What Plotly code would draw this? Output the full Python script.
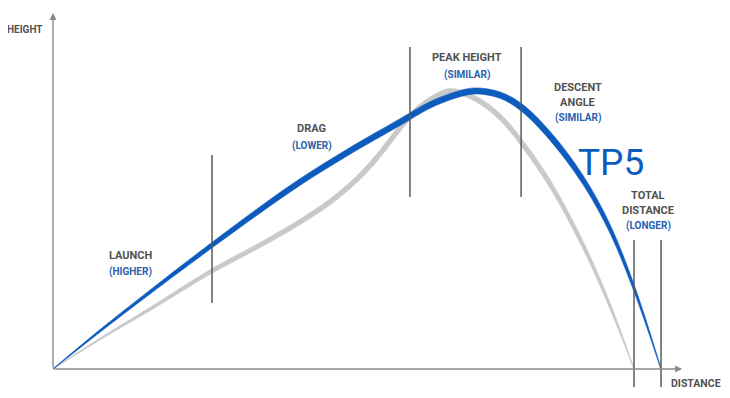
import math
import plotly.graph_objects as go

# ---------------- data (distance in yards, height in feet) ----------------
tp5_distance = [0, 21.4, 44.2, 72.4, 94.2, 112.4, 135.2, 158.0, 171.6, 183.0,
                192.1, 203.5, 213.1, 226.3, 241.3, 253.6, 265.0, 276.8]
tp5_height = [0, 12.7, 25.7, 41.3, 53.0, 62.3, 72.7, 82.3, 88.0, 91.3,
              92.7, 91.3, 87.3, 77.7, 63.0, 46.7, 26.0, 0]

other_distance = [0, 21.4, 44.2, 72.4, 94.2, 112.4, 126.1, 137.5, 146.6, 153.4, 160.2,
                  167.1, 173.9, 180.7, 192.1, 203.5, 213.1, 226.3, 241.3, 253.6, 264.5]
other_height = [0, 10.0, 20.0, 32.7, 41.3, 49.0, 55.7, 62.7, 69.7, 76.0, 82.3,
                87.3, 90.7, 92.7, 90.2, 84.0, 75.7, 61.7, 41.3, 21.0, 0]

phase_names = ["LAUNCH", "DRAG", "PEAK HEIGHT", "DESCENT\nANGLE", "TOTAL\nDISTANCE"]
phase_results = ["(HIGHER)", "(LOWER)", "(SIMILAR)", "(SIMILAR)", "(LONGER)"]
divider_x = [72.4, 162.5, 213.1, 264.5, 276.8]

series_name = "TP5"
axis_titles = ["HEIGHT", "DISTANCE"]

# ---------------- layout / styling ----------------
PAGE_MARGIN = 8                      # default body margin of the html page
W, H = 730 - 2 * PAGE_MARGIN, 398 - 2 * PAGE_MARGIN
ORIGIN_PX = (53 - PAGE_MARGIN, 369 - PAGE_MARGIN)
PX_PER_X = 2.1966
PX_PER_Y = 3.0
x_range = [-ORIGIN_PX[0] / PX_PER_X, (W - ORIGIN_PX[0]) / PX_PER_X]
y_range = [-(H - ORIGIN_PX[1]) / PX_PER_Y, ORIGIN_PX[1] / PX_PER_Y]

BLUE = "#0d5cbd"
LABEL_BLUE = "#2b62ae"
GRAY_CURVE = "#c9c9c9"
TEXT_GRAY = "#525252"
AXIS_GRAY = "#8a8a8a"
DIV_GRAY = "#5a5a5a"
FONT = "Roboto, Liberation Sans, sans-serif"

# stroke thickness (pixels) at each point, giving the tapered look
blue_stroke = [0.4, 2.0, 3.2, 4.4, 5.2, 5.6, 5.8, 6.0, 6.0, 6.0, 6.0, 6.0, 6.0, 5.8, 5.0, 3.8, 2.4, 0.5]
gray_stroke = [0.4, 1.6, 2.8, 4.0, 4.6, 4.8, 5.0, 5.0, 5.0, 5.0, 5.0,
               5.0, 5.0, 5.0, 5.0, 5.0, 4.8, 4.4, 3.6, 2.4, 0.5]


def band(xs, ys, stroke):
    """Upper/lower edges of a stroke of given pixel thickness around the curve."""
    n = len(xs)
    lo, hi = [], []
    for i in range(n):
        a, b = max(i - 1, 0), min(i + 1, n - 1)
        dx = (xs[b] - xs[a]) * PX_PER_X
        dy = (ys[b] - ys[a]) * PX_PER_Y
        s = dy / dx if dx else 0.0
        hw = stroke[i] / 2 * math.sqrt(1 + s * s) / PX_PER_Y
        lo.append(ys[i] - hw)
        hi.append(ys[i] + hw)
    return lo, hi


fig = go.Figure()
for xs, ys, stroke, col in [(other_distance, other_height, gray_stroke, GRAY_CURVE),
                            (tp5_distance, tp5_height, blue_stroke, BLUE)]:
    lo, hi = band(xs, ys, stroke)
    fig.add_trace(go.Scatter(x=xs, y=lo, mode="lines",
                             line=dict(color=col, width=0.6, shape="spline", smoothing=1),
                             hoverinfo="skip", showlegend=False))
    fig.add_trace(go.Scatter(x=xs, y=hi, mode="lines", fill="tonexty", fillcolor=col,
                             line=dict(color=col, width=0.6, shape="spline", smoothing=1),
                             hoverinfo="skip", showlegend=False))

# divider y extents (per divider)
divider_y = [(22, 71.3), (57.3, 107.3), (57.3, 107.3), (-6, 43), (-6, 43)]
shapes = []
for dx, (y0, y1) in zip(divider_x, divider_y):
    shapes.append(dict(type="line", xref="x", yref="y", x0=dx, x1=dx, y0=y0, y1=y1,
                       line=dict(color=DIV_GRAY, width=1.5), layer="above"))

annotations = []
# axes with arrows
annotations.append(dict(x=286.4, y=0, ax=0, ay=0, xref="x", yref="y", axref="x", ayref="y",
                        text="", showarrow=True, arrowhead=2, arrowsize=1, arrowwidth=1.4,
                        arrowcolor=AXIS_GRAY))
annotations.append(dict(x=0, y=118.7, ax=0, ay=0, xref="x", yref="y", axref="x", ayref="y",
                        text="", showarrow=True, arrowhead=2, arrowsize=1, arrowwidth=1.4,
                        arrowcolor=AXIS_GRAY))


def label(text, x, y, color, size=11, bold=True):
    annotations.append(dict(x=x, y=y, xref="x", yref="y",
                            text=("<b>%s</b>" % text) if bold else text,
                            showarrow=False, xanchor="center", yanchor="middle",
                            font=dict(family=FONT, size=size, color=color)))


# axis titles
label(axis_titles[0], -12.97, 113.3, TEXT_GRAY, size=10)
label(axis_titles[1], 292.5, -4.8, TEXT_GRAY, size=10.5)

# phase label positions: (x, [y of name lines...], y of result)
label_pos = [
    (35.5, [37.7], 32.3),
    (117.7, [80.2], 74.5),
    (188.3, [103.7], 98.0),
    (238.8, [94.0, 88.8], 83.6),
    (270.9, [57.8, 52.8], 47.7),
]
for name, result, (lx, ys_, yr) in zip(phase_names, phase_results, label_pos):
    for line_text, ly in zip(name.split("\n"), ys_):
        label(line_text, lx, ly, TEXT_GRAY)
    label(result, lx, yr, LABEL_BLUE, size=10)

# series name
label(series_name, 254.0, 69.0, BLUE, size=37, bold=False)

fig.update_layout(
    width=W, height=H,
    margin=dict(l=0, r=0, t=0, b=0),
    paper_bgcolor="white", plot_bgcolor="white",
    xaxis=dict(range=x_range, visible=False, fixedrange=True),
    yaxis=dict(range=y_range, visible=False, fixedrange=True),
    shapes=shapes, annotations=annotations, showlegend=False,
)

fig.write_html("out.html")
